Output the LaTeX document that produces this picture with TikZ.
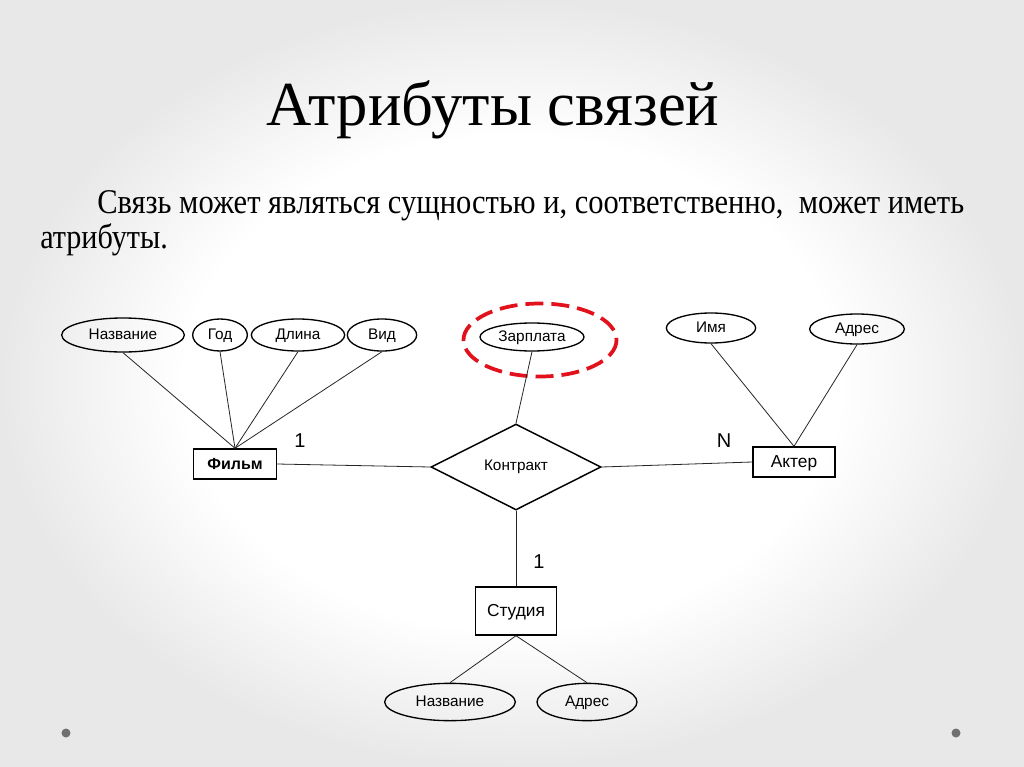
\documentclass[tikz,border=0pt]{standalone}
\usepackage{fontspec}
\setmainfont{Liberation Serif}
\newfontfamily\erfont{Liberation Sans}
\usetikzlibrary{shapes.geometric}
\definecolor{slidegray}{RGB}{232,232,232}
\definecolor{dotgray}{RGB}{112,112,112}
\definecolor{myred}{RGB}{226,18,28}
\pgfdeclareradialshading{slidebg}{\pgfpoint{0bp}{0bp}}{color(0bp)=(white); color(16bp)=(white); color(25bp)=(slidegray); color(50bp)=(slidegray)}

\tikzset{
  attr/.style={ellipse, draw, line width=1pt, inner sep=0pt, minimum height=24pt, text height=8.3pt, text depth=1pt, font=\erfont\fontsize{11.5}{13}\selectfont},
  entity/.style={rectangle, draw, line width=1.1pt, inner sep=0pt, minimum height=22.5pt, text height=9.4pt, text depth=1.2pt, font=\erfont\fontsize{13}{15}\selectfont},
  rel/.style={diamond, draw, line width=1.1pt, inner sep=0pt, font=\erfont\fontsize{11.5}{13}\selectfont},
  link/.style={line width=0.6pt, black!85},
  card/.style={font=\erfont\fontsize{15}{17}\selectfont},
}

\begin{document}
\begin{tikzpicture}[x=0.75pt,y=-0.75pt]
\def\W{1024}
\def\H{767}

%slide background
\shade[shading=slidebg] (0,0) rectangle (\W,\H);
\useasboundingbox (0,0) rectangle (\W,\H);
\fill[dotgray] (66,733) circle (4.5);
\fill[dotgray] (956,733) circle (4.5);

%text
\node[anchor=base, inner sep=0pt, font=\fontsize{47}{54}\selectfont] (title) at (493,125) {Атрибуты связей};
\node[anchor=base west, inner sep=0pt, font=\fontsize{26}{30}\selectfont] (line1) at (97,213)
  {\scalebox{0.88}[1]{Связь может являться сущностью и, соответственно,\ \ может иметь}};
\node[anchor=base west, inner sep=0pt, font=\fontsize{26}{30}\selectfont] (line2) at (40,248)
  {\scalebox{0.87}[1]{атрибуты.}};

%entities
\node[entity, minimum width=62pt, font=\erfont\bfseries\fontsize{12}{15}\selectfont] (film) at (235,464) {Фильм};
\node[entity, minimum width=61.5pt] (akter) at (794,462) {Актер};
\node[entity, minimum width=61pt, minimum height=36pt] (studia) at (516,611) {Студия};
\node[rel, minimum width=127.5pt, minimum height=64.5pt] (kontrakt) at (516,467) {Контракт};

%attributes
\node[attr, minimum width=92pt, minimum height=25.5pt] (fnazv) at (123,335) {Название};
\node[attr, minimum width=41pt] (fgod) at (220,335) {Год};
\node[attr, minimum width=70pt] (fdlina) at (298,335) {Длина};
\node[attr, minimum width=52pt] (fvid) at (382,335) {Вид};
\node[attr, minimum width=78pt, minimum height=21pt] (zarplata) at (532,337) {Зарплата};
\node[attr, minimum width=67pt, minimum height=22.5pt] (aimya) at (711,328) {Имя};
\node[attr, minimum width=71pt, minimum height=22.5pt] (aadres) at (857,329) {Адрес};
\node[attr, minimum width=98pt, minimum height=28pt] (snazv) at (450,702) {Название};
\node[attr, minimum width=75pt, minimum height=28pt] (sadres) at (587,702) {Адрес};

%highlight
\draw[myred, line width=2.8pt, dash pattern=on 13.5pt off 6pt] (540,340) ellipse (76.5 and 36.5);

%cardinalities
\node[card] (c1) at (300,441) {1};
\node[card] (cn) at (724,441) {N};
\node[card] (c2) at (539,562) {1};

%links
\foreach \a in {fnazv,fgod,fdlina,fvid}
  \draw[link] (\a.south) -- (film.north);
\draw[link] (aimya.south) -- (akter.north);
\draw[link] (aadres.south) -- (akter.north);
\draw[link] (zarplata.south) -- (kontrakt.north);
\draw[link] (film.east) -- (kontrakt.west);
\draw[link] (kontrakt.east) -- (akter.west);
\draw[link] (kontrakt.south) -- (studia.north);
\draw[link] (studia.south) -- (snazv.north);
\draw[link] (studia.south) -- (sadres.north);

\end{tikzpicture}
\end{document}
